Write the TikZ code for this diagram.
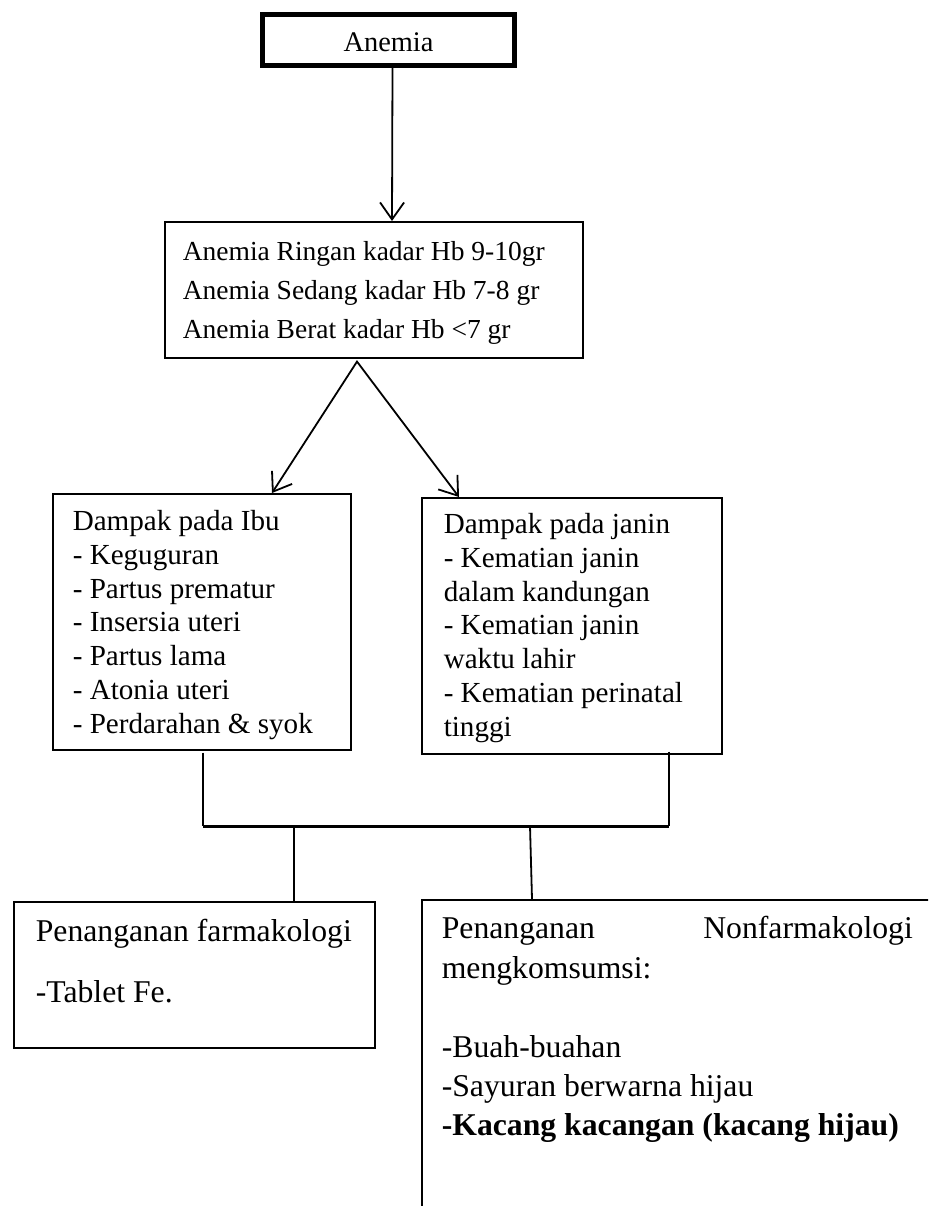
\documentclass[tikz,border=0pt]{standalone}
\usepackage{fontspec}
\setmainfont{Liberation Serif}
\usetikzlibrary{arrows.meta,calc}
\begin{document}
\begin{tikzpicture}[x=1pt,y=-1pt,
  box/.style={draw, line width=1.6pt, inner sep=0pt, anchor=north west},
  conn/.style={line width=1.8pt},
  arr/.style={line width=1.8pt, -{Straight Barb[length=17pt,width=24pt]}},
  arrtwo/.style={line width=1.8pt, line join=miter, {Straight Barb[length=17pt,width=24pt]}-{Straight Barb[length=17pt,width=24pt]}},
]
\clip[use as bounding box] (0,0) rectangle (928,1206);
\fill[white] (0,0) rectangle (928,1206);

\node[box, line width=5pt, minimum width=252pt, minimum height=51pt, anchor=center,
  text height=24pt, text depth=0pt, font=\fontsize{28.4pt}{34pt}\selectfont] (anemia) at (388.5,40) {Anemia};

\node[box] (b2) at (164,221) {\begin{minipage}[t][136pt][t]{418pt}\fontsize{27.5pt}{39pt}\selectfont\raggedright\leftskip=18pt
\rule{0pt}{39pt}Anemia Ringan kadar Hb 9-10gr\\
Anemia Sedang kadar Hb 7-8 gr\\
Anemia Berat kadar Hb <7 gr
\end{minipage}};

\node[box] (ibu) at (52,493) {\begin{minipage}[t][256pt][t]{298pt}\fontsize{29.1pt}{33.7pt}\selectfont\raggedright\leftskip=20pt
\rule{0pt}{37pt}Dampak pada Ibu\\
- Keguguran\\
- Partus prematur\\
- Insersia uteri\\
- Partus lama\\
- Atonia uteri\\
- Perdarahan \& syok
\end{minipage}};

\node[box] (janin) at (421,497) {\begin{minipage}[t][256pt][t]{300pt}\fontsize{29.1pt}{33.7pt}\selectfont\raggedright\leftskip=22pt
\rule{0pt}{36pt}Dampak pada janin\\
- Kematian janin\\
dalam kandungan\\
- Kematian janin\\
waktu lahir\\
- Kematian perinatal\\
tinggi
\end{minipage}};

\node[box] (farm) at (13,901) {\begin{minipage}[t][146pt][t]{361pt}\fontsize{31.7pt}{39.5pt}\selectfont\raggedright\leftskip=22pt
\rule{0pt}{40pt}Penanganan farmakologi\\[21.5pt]
-Tablet Fe.
\end{minipage}};

\node[box] (nonfarm) at (421,899) {\begin{minipage}[t][400pt][t]{600pt}\fontsize{31.7pt}{39.4pt}\selectfont\raggedright\leftskip=20pt\rightskip=109pt plus 1fil
\rule{0pt}{39pt}Penanganan\hfill Nonfarmakologi\\
mengkomsumsi:\\[39.4pt]
-Buah-buahan\\
-Sayuran berwarna hijau\\
\textbf{-Kacang kacangan (kacang hijau)}
\end{minipage}};

\draw[arr] ($(anemia.south)+(4,0)$) -- ($(b2.north west)+(228,0)$);
\coordinate (apex) at ($(b2.south west)+(193,3)$);
\draw[arrtwo] ($(ibu.north west)+(220,0)$) -- (apex) -- ($(janin.north west)+(38,0)$);

\coordinate (jL) at (203,826);
\coordinate (jR) at (669,826);
\coordinate (jA) at (294,826);
\coordinate (jB) at (530,826);
\draw[conn] ($(ibu.south west)+(151,2)$) -- (jL);
\draw[conn] ($(janin.south west)+(248,-3)$) -- (jR);
\draw[line width=3pt] (jL) -- (jR);
\draw[conn] (jA) -- ($(farm.north west)+(281,0)$);
\draw[conn] (jB) -- ($(nonfarm.north west)+(111,0)$);
\end{tikzpicture}
\end{document}
